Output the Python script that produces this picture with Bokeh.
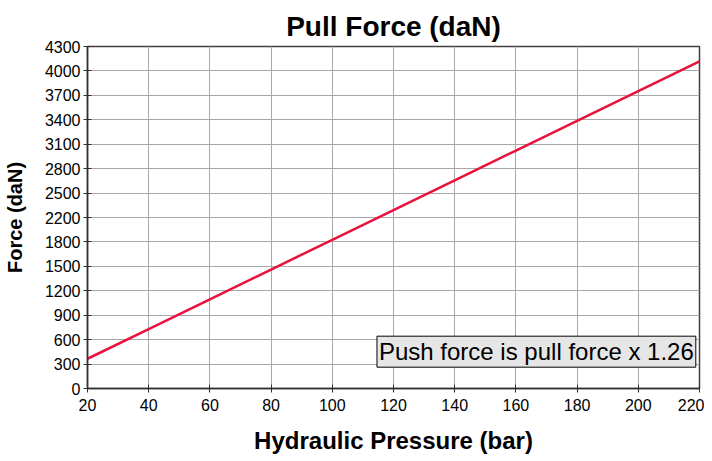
from bokeh.plotting import figure
from bokeh.models import FixedTicker, Range1d, Label
from bokeh.embed import file_html
from bokeh.resources import INLINE

# Data
pressure_bar = [20, 40, 60, 80, 100, 120, 140, 160, 180, 200, 220]
pull_force_daN = [374, 748, 1122, 1496, 1870, 2244, 2618, 2992, 3366, 3740, 4114]
x_ticks = [20, 40, 60, 80, 100, 120, 140, 160, 180, 200, 220]
y_tick_labels = ["0", "300", "600", "900", "1200", "1500", "1800", "2200",
                 "2500", "2800", "3100", "3400", "3700", "4000", "4300"]
y_max = 4300
note_text = "Push force is pull force x 1.26"

FONT = "Liberation Sans"

p = figure(width=704, height=456, output_backend="svg", toolbar_location=None,
           x_range=Range1d(20, 220), y_range=Range1d(0, y_max),
           min_border_left=85, min_border_right=5, min_border_top=46, min_border_bottom=63,
           title="Pull Force (daN)")
p.outline_line_color = "#404040"
p.outline_line_width = 1.5

p.title.text_font = FONT
p.title.text_font_size = "28px"
p.title.text_font_style = "bold"
p.title.align = "center"
p.title.text_color = "black"

n = len(y_tick_labels)
y_ticks = [y_max * i / (n - 1) for i in range(n)]

p.xaxis.ticker = FixedTicker(ticks=x_ticks)
p.yaxis.ticker = FixedTicker(ticks=y_ticks)
p.yaxis.major_label_overrides = {t: lab for t, lab in zip(y_ticks, y_tick_labels)}

for ax in (p.xaxis[0], p.yaxis[0]):
    ax.axis_line_color = "#303030"
    ax.axis_line_width = 1.5
    ax.major_tick_line_color = "#303030"
    ax.major_tick_in = 4
    ax.major_tick_out = 4
    ax.minor_tick_line_color = None
    ax.major_label_text_font = FONT
    ax.major_label_text_font_size = "16px"
    ax.major_label_text_color = "black"
    ax.axis_label_text_font = FONT
    ax.axis_label_text_font_style = "bold"
    ax.axis_label_text_color = "black"

p.xaxis.axis_label = "Hydraulic Pressure (bar)"
p.xaxis.axis_label_text_font_size = "24px"
p.xaxis.axis_label_standoff = 13
p.xaxis.major_label_standoff = 6
p.yaxis.axis_label = "Force (daN)"
p.yaxis.axis_label_text_font_size = "20px"
p.yaxis.axis_label_standoff = 16
p.yaxis.major_label_standoff = 3

p.grid.grid_line_color = "#a8a8a8"
p.grid.grid_line_width = 1

p.line(pressure_bar, pull_force_daN, line_color="#e8123c", line_width=2.5)

note = Label(x=114.6, y=268, text=note_text, text_font=FONT, text_font_size="24px",
             text_color="black", background_fill_color="#e6e6e6", border_line_color="black",
             border_line_width=1, padding=2)
p.add_layout(note)

open("out.html", "w").write(file_html(p, INLINE))
